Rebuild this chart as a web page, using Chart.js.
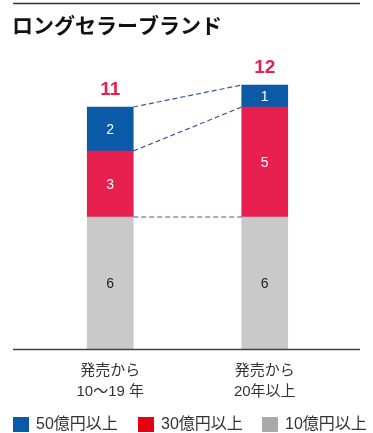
<!DOCTYPE html>
<html><head><meta charset="utf-8">
<script src="https://cdn.jsdelivr.net/npm/chart.js@4"></script>
<style>html,body{margin:0;padding:0;background:#fff;}#wrap{position:relative;width:373px;height:433px;}</style>
</head><body><div id="wrap"><canvas id="c" width="373" height="433"></canvas></div>
<script>
const title = 'ロングセラーブランド';
const categories = [['発売から', '10〜19 年'], ['発売から', '20年以上']];
const seriesNames = ['10億円以上', '30億円以上', '50億円以上'];
const over10 = [6, 6];
const over30 = [3, 5];
const over50 = [2, 1];
const legendOrder = ['50億円以上', '30億円以上', '10億円以上'];

const FONT = '"Liberation Sans", "Noto Sans CJK JP", sans-serif';
const barColors = ['#C8C9C8', '#E8204F', '#0A5AA8'];
const legendColors = {'50億円以上': '#0A5AA8', '30億円以上': '#E60012', '10億円以上': '#AAAAAA'};
const labelColors = ['#222', '#fff', '#fff'];

const decor = {
  id: 'decor',
  afterDatasetsDraw(chart) {
    const ctx = chart.ctx;
    const x = chart.scales.x, y = chart.scales.y;
    ctx.save();
    // top rule
    ctx.strokeStyle = '#333'; ctx.lineWidth = 1.5;
    ctx.beginPath(); ctx.moveTo(13, 3.5); ctx.lineTo(360, 3.5); ctx.stroke();
    // title
    ctx.fillStyle = '#111'; ctx.font = 'bold 21px "Noto Sans CJK JP", sans-serif';
    ctx.textAlign = 'left'; ctx.textBaseline = 'middle';
    ctx.fillText(title, 12, 25);
    // baseline
    const yb = y.getPixelForValue(0);
    ctx.strokeStyle = '#444'; ctx.lineWidth = 1.5;
    ctx.beginPath(); ctx.moveTo(13, yb + 0.5); ctx.lineTo(360, yb + 0.5); ctx.stroke();
    // dashed connectors
    const m0 = chart.getDatasetMeta(0).data, m1 = chart.getDatasetMeta(1).data, m2 = chart.getDatasetMeta(2).data;
    ctx.strokeStyle = '#3A5A9C'; ctx.lineWidth = 1.2; ctx.setLineDash([5, 3]);
    const pairs = [[m0[0].y, m0[1].y], [m1[0].y, m1[1].y], [m2[0].y, m2[1].y]];
    const xl = m0[0].x + m0[0].width / 2, xr = m0[1].x - m0[1].width / 2;
    pairs.forEach(p => { ctx.beginPath(); ctx.moveTo(xl, p[0]); ctx.lineTo(xr, p[1]); ctx.stroke(); });
    ctx.setLineDash([]);
    // segment labels
    ctx.textAlign = 'center'; ctx.textBaseline = 'middle'; ctx.font = '14px ' + FONT;
    chart.data.datasets.forEach((ds, di) => {
      chart.getDatasetMeta(di).data.forEach((bar, i) => {
        ctx.fillStyle = labelColors[di];
        ctx.fillText(String(ds.data[i]), bar.x, (bar.y + bar.base) / 2 + 1);
      });
    });
    // totals
    ctx.font = 'bold 19px ' + FONT; ctx.fillStyle = '#E8204F';
    categories.forEach((c, i) => {
      const tot = over10[i] + over30[i] + over50[i];
      ctx.fillText(String(tot), x.getPixelForValue(i), y.getPixelForValue(tot) - 17);
    });
    // legend
    const lx = [13, 138, 262];
    ctx.font = '16px ' + FONT; ctx.textAlign = 'left';
    legendOrder.forEach((name, i) => {
      ctx.fillStyle = legendColors[name];
      ctx.fillRect(lx[i], 417, 16, 15);
      ctx.fillStyle = '#333';
      ctx.fillText(name, lx[i] + 23, 425);
    });
    ctx.restore();
  }
};

new Chart(document.getElementById('c'), {
  type: 'bar',
  data: {
    labels: categories,
    datasets: [
      {label: seriesNames[0], data: over10, backgroundColor: barColors[0]},
      {label: seriesNames[1], data: over30, backgroundColor: barColors[1]},
      {label: seriesNames[2], data: over50, backgroundColor: barColors[2]}
    ]
  },
  options: {
    responsive: false, animation: false,
    layout: {padding: {left: 33, right: 31, top: 63, bottom: 0}},
    datasets: {bar: {barThickness: 46, borderWidth: 0}},
    plugins: {legend: {display: false}, tooltip: {enabled: false}},
    scales: {
      x: {stacked: true, grid: {display: false, drawTicks: false}, border: {display: false},
          ticks: {color: '#333', font: {size: 15, family: FONT, lineHeight: '21px'}, padding: 11},
          afterFit(s) { s.height = 84; }},
      y: {stacked: true, display: false, min: 0, max: 13}
    }
  },
  plugins: [decor]
});
</script></body></html>
